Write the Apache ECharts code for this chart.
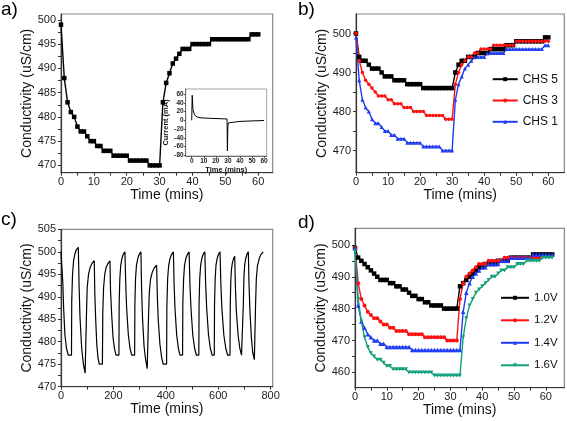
<!DOCTYPE html>
<html><head><meta charset="utf-8">
<script src="https://cdn.jsdelivr.net/npm/echarts@6/dist/echarts.min.js"></script>
<style>html,body{margin:0;padding:0;background:#fff}#c{width:567px;height:421px}</style>
</head><body><div id="c"></div>
<script>
// ---------- data ----------
const minutesA = [0,1,2,3,4,5,6,7,8,9,10,11,12,13,14,15,16,17,18,19,20,21,22,23,24,25,26,27,28,29,30,31,32,33,34,35,36,37,38,39,40,41,42,43,44,45,46,47,48,49,50,51,52,53,54,55,56,57,58,59,60];
const condA = [499,488,483,481,480,478,477,477,476,475, 475,474,474,473,473,473,472,472,472,472, 472,471,471,471,471,471,471,470,470,470, 470,483,487,489,491,492,493,494,494,494, 495,495,495,495,495,495,496,496,496,496, 496,496,496,496,496,496,496,496,497,497, 497];

const insetTime = [0,0.4,1,2,3,5,8,15,25,29.3,29.6,30,30.5,32,40,50,60];
const insetCurrent = [0,57,25,15,10,7,5.5,4.5,3.5,3,-70,-12,-6,-4,-2.5,-1.5,-0.5];

const minutesB = minutesA;
const chs5 = [500,494,493,493,492,491,491,491,490,489, 489,489,488,488,488,488,487,487,487,487, 487,486,486,486,486,486,486,486,486,486, 486,490,492,493,493,494,494,494,495,495, 495,495,496,496,496,496,496,497,497,497, 498,498,498,498,498,498,498,498,498,499, 499];
const chs3 = [500,493,490,488,487,486,485,484,484,484, 483,483,482,482,482,481,481,481,480,480, 480,480,479,479,479,479,479,479,478,478, 478,487,490,492,493,494,494,495,495,496, 496,496,496,497,497,497,497,497,497,497, 498,498,498,498,498,498,498,498,498,498, 498];
const chs1 = [499,488,483,481,480,478,477,477,476,475, 475,474,474,473,473,473,472,472,472,472, 472,471,471,471,471,471,471,470,470,470, 470,483,487,489,491,492,493,494,494,494, 494,495,495,495,495,495,495,496,496,496, 496,496,496,496,496,496,496,496,496,497, 497];

const cTime = [0,5,7,10,15,21,28,40, 41,44,48,53,59,66, 69,72.5,79,85.5,92,95, 97,100,105,111,119,127, 129,132,136.5,141,146,158, 159.5,162.5,167,172,180,187, 189,193,198.5,204,210,221, 222,224.5,228,232.5,238,244, 247,250.5,257,263.5,270,281, 282,284.5,288,293,299,305, 307.5,311,317,323,329,332, 334,337,342,348.5,357,365, 367.5,371,377.5,384,390,403, 404,407,411,416,422.5,429, 431.5,435,441.5,448,454,464, 465,468,471.5,476.5,483,489, 492,496,503,510,517,526, 527,529.5,533,537.5,543,549, 552,556,563,570,577,585, 586,588.5,591.5,596,601.5,607, 610,614,621.5,629,636,645, 646,648,650.5,654,658.5,663, 665.5,669,676,682.5,689,695, 696,698,701,705,710,715, 717.5,721,726.5,732,738,741, 742.5,745.5,750,756.5,764,772];
const cCond = [500,500,493,487.5,481.5,478.5,477,477, 489,495,498,499.5,500.5,501, 492.5,485.5,478.5,475,473,473, 485.5,492,495,496.5,497.5,498, 491,485.5,479.5,476.5,475,475, 486.5,492,495,496.5,497.5,498, 491.5,486.5,481,478.5,477,477, 488.5,494,497,498.5,499.5,500, 493,487.5,481.5,478.5,477,477, 488.5,494,497,498.5,499.5,500, 492,485.5,479,476,474,474, 485.5,491,494,495.5,496.5,497, 490.5,485,479.5,476.5,475,475, 487.5,494,497,498.5,499.5,500, 493,487.5,481.5,478.5,477,477, 488.5,494,497,498.5,499.5,500, 493,487.5,481.5,478.5,477,477, 488.5,494,497,498.5,499.5,500, 493,487.5,481.5,478.5,477,477, 488.5,494,497,498.5,499.5,500, 493,487.5,481.5,478.5,477,477, 488,493.5,496,497.5,498.5,499, 492.5,487,481.5,478.5,477,477, 488.5,494,497,498.5,499.5,500, 493,487,481,477.5,476,476, 488,494,497,498.5,499.5,500];

const minutesD = [0,1,2,3,4,5,6,7,8,9,10,11,12,13,14,15,16,17,18,19,20,21,22,23,24,25,26,27,28,29,30,31,32,33,34,35,36,37,38,39,40,41,42,43,44,45,46,47,48,49,50,51,52,53,54,55,56,57,58,59,60,61,62];
const v10 = [499,496,495,494,493,492,491,490,489,489, 489,488,488,487,487,486,486,485,484,484, 483,483,482,482,481,481,481,481,480,480, 480,480,480,487,488,489,490,491,492,493, 493,494,494,494,494,495,495,495,495,496, 496,496,496,496,496,496,497,497,497,497, 497,497,497];
const v12 = [499,488,483,481,479,478,477,477,476,475, 475,474,474,473,473,473,473,472,472,472, 472,472,471,471,471,471,471,471,471,470, 470,470,470,483,488,490,491,492,493,494, 494,494,495,495,495,495,495,496,496,496, 496,496,496,496,496,496,496,496,496];
const v14 = [499,481,476,474,472,471,470,470,469,469, 468,468,468,468,468,468,468,468,467,467, 467,467,467,467,467,467,467,467,467,467, 467,467,467,467,479,485,488,490,491,492, 493,493,494,494,494,494,495,495,495,496, 496,496,496,496,496,496,497,497,497,497, 497,497,497];
const v16 = [498,483,476,471,468,466,465,464,464,463, 462,462,461,461,461,461,461,460,460,460, 460,460,460,460,460,459,459,459,459,459, 459,459,459,459,471,477,481,483,485,486, 487,488,489,490,490,491,492,492,493,493, 493,494,494,494,495,495,495,495,495,496, 496,496,496];

// tick labels
const ticksA_x = [0,10,20,30,40,50,60];
const ticksA_y = [470,475,480,485,490,495,500];
const ticksInset_x = [0,10,20,30,40,50,60];
const ticksInset_y = [-80,-60,-40,-20,0,20,40,60];
const ticksB_x = [0,10,20,30,40,50,60];
const ticksB_y = [470,480,490,500];
const ticksC_x = [0,200,400,600,800];
const ticksC_y = [470,475,480,485,490,495,500,505];
const ticksD_x = [0,10,20,30,40,50,60];
const ticksD_y = [460,470,480,490,500];

// ---------- chart ----------
const FONT = '"Liberation Sans", Arial, sans-serif';
function pairs(t, v) { return v.map((y, i) => [t[i], y]); }
function withMid(arr) { const o = []; for (let i = 0; i < arr.length; i++) { o.push(arr[i]); if (i < arr.length - 1) o.push((arr[i] + arr[i + 1]) / 2); } return o; }

function xAx(g, min, max, labels, small) {
  return {
    type: 'value', gridIndex: g, min: min, max: max, position: 'bottom',
    axisLine: { show: true, onZero: false, lineStyle: { color: small ? '#555' : '#333', width: small ? 0.8 : 1.2 } },
    axisTick: { show: true, inside: false, length: small ? 2 : 3, customValues: small ? labels : withMid(labels), lineStyle: { color: '#333', width: small ? 0.8 : 1 } },
    axisLabel: { customValues: labels, fontSize: small ? 6.5 : 11, fontWeight: small ? 'bold' : 'normal', color: '#222', fontFamily: FONT, margin: small ? 2 : 4 },
    splitLine: { show: false },
    name: 'Time (mins)', nameLocation: 'middle', nameGap: small ? 8 : 15.5,
    nameTextStyle: { fontSize: small ? 7.5 : 14, fontWeight: small ? 'bold' : 'normal', fontFamily: FONT, color: '#111' }
  };
}
function yAx(g, min, max, labels, small, name) {
  return {
    type: 'value', gridIndex: g, min: min, max: max, position: 'left',
    axisLine: { show: true, onZero: false, lineStyle: { color: small ? '#555' : '#333', width: small ? 0.8 : 1.2 } },
    axisTick: { show: true, inside: false, length: small ? 2 : 3, customValues: small ? labels : withMid(labels), lineStyle: { color: '#333', width: small ? 0.8 : 1 } },
    axisLabel: { customValues: labels, fontSize: small ? 6.5 : 11, fontWeight: small ? 'bold' : 'normal', color: '#222', fontFamily: FONT, margin: small ? 2 : 5 },
    splitLine: { show: false },
    name: name, nameLocation: 'middle', nameGap: small ? 10 : 22,
    nameTextStyle: { fontSize: small ? 7.5 : 14, fontWeight: small ? 'bold' : 'normal', fontFamily: FONT, color: '#111' }
  };
}
const gridStyle = { show: true, borderColor: '#888', borderWidth: 1.2, backgroundColor: 'transparent', containLabel: false };

const RED = '#ff1010', BLUE = '#1f3cf5', GREEN = '#12a07a';

function lineSeries(name, xi, yi, data, color, symbol, size, rot) {
  return {
    type: 'line', name: name, xAxisIndex: xi, yAxisIndex: yi, data: data,
    symbol: symbol, symbolSize: size, symbolRotate: rot || 0, showSymbol: symbol !== 'none',
    lineStyle: { color: color, width: 1.4 }, itemStyle: { color: color },
    emphasis: { disabled: true }, animation: false
  };
}

const option = {
  animation: false,
  textStyle: { fontFamily: FONT },
  grid: [
    Object.assign({ left: 61, top: 14, width: 211.7, height: 158.7 }, gridStyle),
    Object.assign({ left: 356, top: 14, width: 208.3, height: 158.7 }, gridStyle),
    Object.assign({ left: 61, top: 229.3, width: 211.7, height: 157.4 }, gridStyle),
    Object.assign({ left: 355, top: 228.3, width: 209.3, height: 159.4 }, gridStyle),
    Object.assign({}, gridStyle, { left: 185.7, top: 89, width: 81, height: 67, borderWidth: 0.8 })
  ],
  xAxis: [
    xAx(0, 0, 64.4, ticksA_x, false),
    xAx(1, 0, 65, ticksB_x, false),
    xAx(2, 0, 808, ticksC_x, false),
    xAx(3, 0, 65.8, ticksD_x, false),
    xAx(4, -5, 62.2, ticksInset_x, true)
  ],
  yAxis: [
    yAx(0, 468.5, 501.2, ticksA_y, false, 'Conductivity (uS/cm)'),
    yAx(1, 464.3, 505, ticksB_y, false, 'Conductivity (uS/cm)'),
    yAx(2, 470, 505, ticksC_y, false, 'Conductivity (uS/cm)'),
    yAx(3, 455.2, 505.2, ticksD_y, false, 'Conductivity (uS/cm)'),
    yAx(4, -81.5, 71.4, ticksInset_y, true, 'Current (mA)')
  ],
  legend: [
    { orient: 'vertical', left: 486.7, top: 68.2, itemWidth: 25, itemHeight: 5, itemGap: 9.3,
      data: ['CHS 5', 'CHS 3', 'CHS 1'], textStyle: { fontSize: 12, color: '#111', fontFamily: FONT } },
    { orient: 'vertical', left: 495, top: 286.8, itemWidth: 28, itemHeight: 5, itemGap: 10.5,
      data: ['1.0V', '1.2V', '1.4V', '1.6V'], textStyle: { fontSize: 11.5, color: '#111', fontFamily: FONT } }
  ],
  graphic: [
    { type: 'text', left: 1, top: 0, style: { text: 'a)', fontSize: 19, fontFamily: FONT, fill: '#000' } },
    { type: 'text', left: 298, top: 0, style: { text: 'b)', fontSize: 19, fontFamily: FONT, fill: '#000' } },
    { type: 'text', left: 1, top: 210, style: { text: 'c)', fontSize: 19, fontFamily: FONT, fill: '#000' } },
    { type: 'text', left: 298, top: 213, style: { text: 'd)', fontSize: 19, fontFamily: FONT, fill: '#000' } }
  ],
  series: [
    lineSeries('a', 0, 0, pairs(minutesA, condA), '#000', 'rect', 4.5),
    lineSeries('inset', 4, 4, pairs(insetTime, insetCurrent), '#000', 'none', 0),
    lineSeries('CHS 5', 1, 1, pairs(minutesB, chs5), '#000', 'rect', 4.5),
    lineSeries('CHS 3', 1, 1, pairs(minutesB, chs3), RED, 'circle', 3.5),
    lineSeries('CHS 1', 1, 1, pairs(minutesB, chs1), BLUE, 'triangle', 4),
    lineSeries('c', 2, 2, pairs(cTime, cCond), '#000', 'none', 0),
    lineSeries('1.0V', 3, 3, pairs(minutesD, v10), '#000', 'rect', 4.5),
    lineSeries('1.2V', 3, 3, pairs(minutesD, v12), RED, 'circle', 4),
    lineSeries('1.4V', 3, 3, pairs(minutesD, v14), BLUE, 'triangle', 4.5),
    lineSeries('1.6V', 3, 3, pairs(minutesD, v16), GREEN, 'triangle', 4, 180)
  ]
};
option.series[1].lineStyle.width = 1;
option.series[5].lineStyle.width = 1.2;

const chart = echarts.init(document.getElementById('c'), null, { renderer: 'canvas' });
chart.setOption(option);
</script>
</body></html>
